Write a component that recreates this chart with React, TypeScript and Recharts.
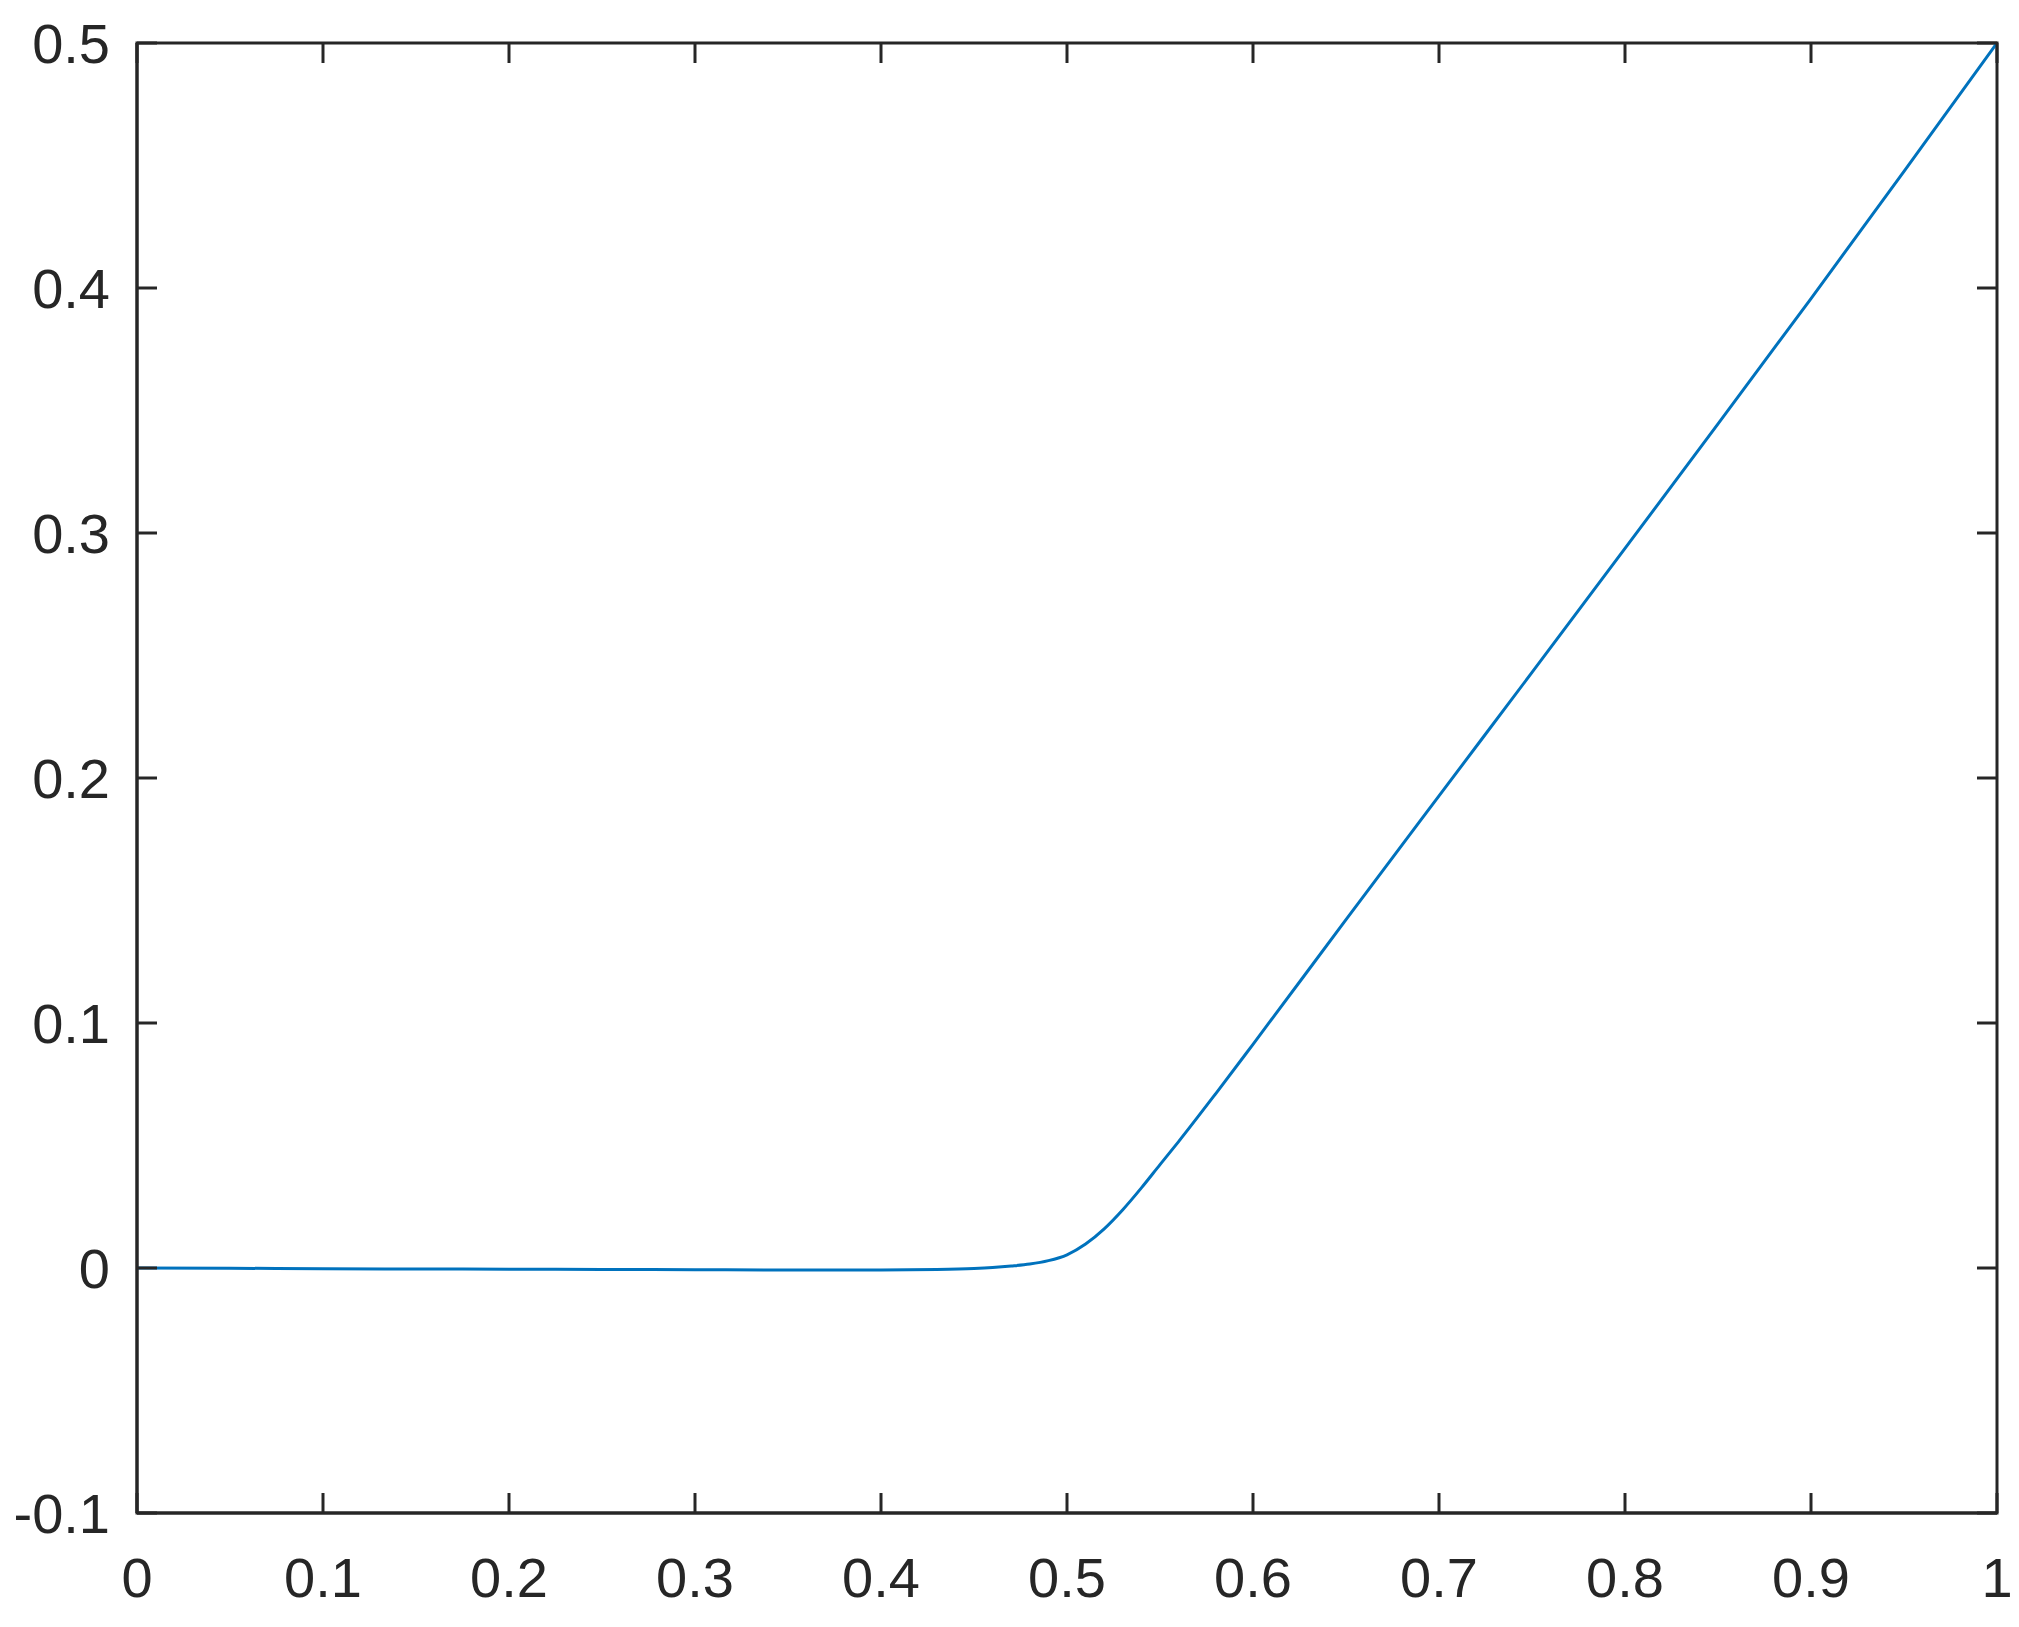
import React from "react";
import { LineChart, Line, XAxis, YAxis, ReferenceArea } from "recharts";

const xValues = [0, 0.05, 0.1, 0.15, 0.2, 0.25, 0.3, 0.35, 0.4, 0.43, 0.45, 0.46, 0.47, 0.48, 0.49, 0.5, 0.51, 0.52, 0.53, 0.54, 0.55, 0.56, 0.58, 0.6, 0.65, 0.7, 0.75, 0.8, 0.85, 0.9, 0.95, 1.0];
const yValues = [0, -0.0001, -0.0003, -0.0004, -0.0005, -0.0006, -0.0007, -0.0008, -0.0008, -0.0006, -0.0002, 0.0002, 0.0008, 0.0016, 0.003, 0.0054, 0.0098, 0.016, 0.0238, 0.0327, 0.0422, 0.0516, 0.0712, 0.0913, 0.1422, 0.1927, 0.2431, 0.2937, 0.3445, 0.3957, 0.4476, 0.5];
const xTicks = [0, 0.1, 0.2, 0.3, 0.4, 0.5, 0.6, 0.7, 0.8, 0.9, 1];
const yTicks = [-0.1, 0, 0.1, 0.2, 0.3, 0.4, 0.5];

const data = xValues.map((x, i) => ({ x, y: yValues[i] }));

const AX = "#262626";
const FONT = "'Liberation Sans', Arial, Helvetica, sans-serif";
const FS = 56;
const TL = 20;
const SW = 3;
const PLOT_W = 1860;
const PLOT_H = 1470;

const BottomTick = (props: any) => {
  const { x, y, payload } = props;
  return (
    <g>
      <line x1={x} y1={y} x2={x} y2={y - TL} stroke={AX} strokeWidth={SW} />
      <line x1={x} y1={y - PLOT_H} x2={x} y2={y - PLOT_H + TL} stroke={AX} strokeWidth={SW} />
      <text x={x} y={y + 84} textAnchor="middle" fill={AX} fontSize={FS} fontFamily={FONT}>
        {String(payload.value)}
      </text>
    </g>
  );
};

const LeftTick = (props: any) => {
  const { x, y, payload } = props;
  return (
    <g>
      <line x1={x} y1={y} x2={x + TL} y2={y} stroke={AX} strokeWidth={SW} />
      <line x1={x + PLOT_W} y1={y} x2={x + PLOT_W - TL} y2={y} stroke={AX} strokeWidth={SW} />
      <text x={x - 27} y={y + 20} textAnchor="end" fill={AX} fontSize={FS} fontFamily={FONT}>
        {String(payload.value)}
      </text>
    </g>
  );
};

export default function App() {
  return (
    <div style={{ width: 2011, height: 1600, background: "#fff" }}>
      <LineChart width={2011} height={1600} data={data} margin={{ top: 35, right: 22, left: 0, bottom: 0 }} style={{ overflow: "visible" }}>
        <XAxis
          dataKey="x"
          type="number"
          domain={[0, 1]}
          ticks={xTicks}
          interval={0}
          height={95}
          tickSize={0}
          tickMargin={0}
          tickLine={false}
          axisLine={{ stroke: AX, strokeWidth: SW }}
          tick={<BottomTick />}
          allowDataOverflow
        />
        <YAxis
          type="number"
          domain={[-0.1, 0.5]}
          ticks={yTicks}
          interval={0}
          width={129}
          tickSize={0}
          tickMargin={0}
          tickLine={false}
          axisLine={{ stroke: AX, strokeWidth: SW }}
          tick={<LeftTick />}
          allowDataOverflow
        />
        <ReferenceArea x1={0} x2={1} y1={-0.1} y2={0.5} fill="none" stroke={AX} strokeWidth={SW} ifOverflow="visible" />
        <Line
          type="monotone"
          dataKey="y"
          stroke="#0072BD"
          strokeWidth={3}
          dot={false}
          isAnimationActive={false}
        />
      </LineChart>
    </div>
  );
}
